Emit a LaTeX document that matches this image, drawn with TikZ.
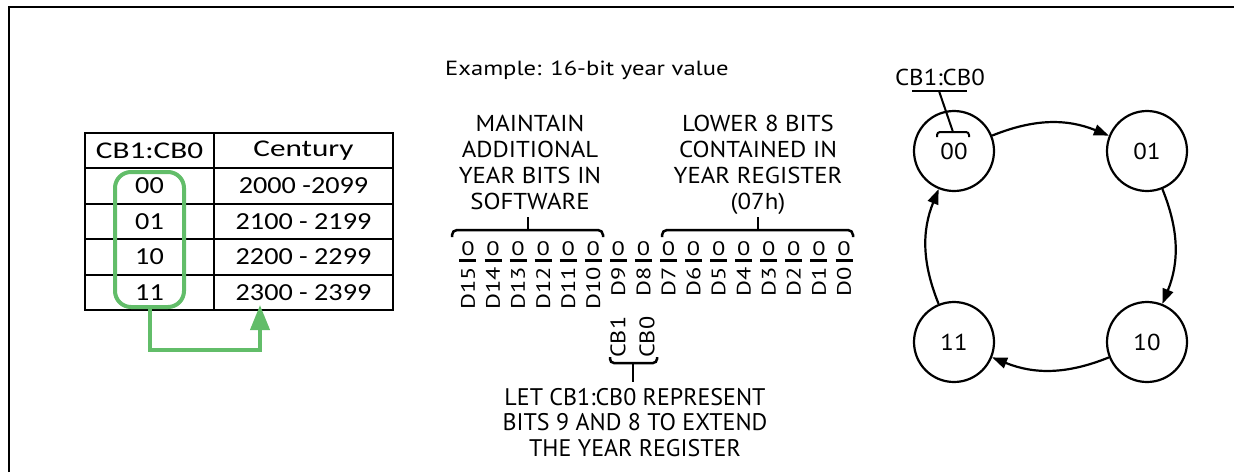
\documentclass[tikz,border=0pt]{standalone}
\usepackage{fontspec}
\setmainfont{PT Sans}
\newfontfamily\fWide[FakeStretch=1.2]{PT Sans}
\newfontfamily\fLbl[FakeStretch=1.25]{PT Sans}
\newfontfamily\fMid[FakeStretch=1.08]{PT Sans}
\newfontfamily\fCb[FakeStretch=1.15]{PT Sans}
\newfontfamily\tabfont[FakeStretch=1.3]{Carlito}
\newfontfamily\tabnum[FakeStretch=1.15]{Carlito}
\usetikzlibrary{arrows.meta}
\definecolor{grn}{RGB}{98,189,105}
\begin{document}
\begin{tikzpicture}[x=1pt,y=1pt,
  cellA/.style={draw, line width=2, minimum width=129, minimum height=35.4, inner sep=0, font=\tabfont\fontsize{24}{24}\selectfont},
  cellB/.style={draw, line width=2, minimum width=179, minimum height=35.4, inner sep=0, font=\tabfont\fontsize{24}{24}\selectfont},
  rowf/.style={font=\tabnum\fontsize{24.5}{24.5}\selectfont},
  blk/.style={align=center, inner sep=0, font=\fMid\fontsize{23}{26}\selectfont},
  bitf/.style={inner sep=0, font=\fLbl\fontsize{19.5}{19.5}\selectfont},
  lblf/.style={inner sep=0, rotate=90, font=\fLbl\fontsize{19.5}{19.5}\selectfont},
  cbf/.style={inner sep=0, rotate=90, font=\fCb\fontsize{21}{21}\selectfont},
  st/.style={circle, draw, line width=2.2, minimum size=80, inner sep=0, font=\fMid\fontsize{23}{23}\selectfont},
  cyc/.style={line width=2.2, -{Triangle[length=15,width=11]}, bend left=22},
  brc/.style={line width=2.5}
]
\useasboundingbox (0,0) rectangle (1234,-472);
% frame
\draw[line width=2] (9,-472) -- (9,-7) -- (1234,-7);

% table
\node[cellA] (h1) at (149.5,-150.7) {CB1:CB0};
\node[cellB] (h2) at (303.5,-150.7) {Century};
\foreach \yy/\aa/\bb [count=\i] in {186.1/00/2000 -2099, 221.5/01/2100 - 2199, 256.9/10/2200 - 2299, 292.3/11/2300 - 2399} {
  \node[cellA, rowf] (a\i) at (149.5,-\yy) {\aa};
  \node[cellB, rowf] (b\i) at (303.5,-\yy) {\bb};
}
\node[draw=grn, line width=4, rounded corners=16, minimum width=69, minimum height=135, inner sep=0] (grp) at (149.5,-239.5) {};
\coordinate (tgt) at (260,-305);
\draw[grn, line width=4, -{Triangle[length=25,width=19]}] (grp.south) -- ++(0,-41) -| (tgt);

% middle
\node[inner sep=0, anchor=base west, font=\fWide\fontsize{20.5}{20.5}\selectfont] (ex) at (445,-75) {Example: 16-bit year value};
\node[blk, anchor=base] (mnt) at (530,-209) {MAINTAIN\\ADDITIONAL\\YEAR BITS IN\\SOFTWARE};
\node[blk, anchor=base] (low) at (758,-209) {LOWER 8 BITS\\CONTAINED IN\\YEAR REGISTER\\(07h)};

\draw[brc, rounded corners=5] (452,-237) -- (452,-230) -- (603,-230) -- (603,-237);
\coordinate (bl) at (528,-230); \coordinate (blt) at (528,-217);
\draw[brc] (bl) -- (blt);
\draw[brc, rounded corners=5] (662,-237) -- (662,-230) -- (853,-230) -- (853,-237);
\coordinate (br) at (758,-230); \coordinate (brt) at (758,-217);
\draw[brc] (br) -- (brt);

\foreach \i in {0,...,15} {
  \pgfmathsetmacro\xx{844-25.07*\i}
  \node[bitf, anchor=base] (z\i) at (\xx,-255) {0};
  \draw[line width=3] (\xx-8.5,-260.5) -- (\xx+8.5,-260.5);
  \node[lblf, anchor=east] (d\i) at (\xx,-267) {D\i};
}

\node[cbf, anchor=west] (cb1) at (618,-358) {CB1};
\node[cbf, anchor=west] (cb0) at (647,-358) {CB0};
\draw[brc, rounded corners=4] (610,-357) -- (610,-363) -- (657,-363) -- (657,-357);
\coordinate (bc) at (633,-363); \coordinate (bct) at (633,-382);
\draw[brc] (bc) -- (bct);
\node[align=center, inner sep=0, font=\fontsize{24}{25.5}\selectfont, anchor=base] (let) at (635,-456) {LET CB1:CB0 REPRESENT\\BITS 9 AND 8 TO EXTEND\\THE YEAR REGISTER};

% state diagram
\node[st] (s00) at (954,-151) {00};
\node[st] (s01) at (1147,-151) {01};
\node[st] (s10) at (1147,-342) {10};
\node[st] (s11) at (954,-342) {11};
\draw[cyc] (s00) to (s01);
\draw[cyc] (s01) to (s10);
\draw[cyc] (s10) to (s11);
\draw[cyc] (s11) to (s00);

\node[inner sep=0, anchor=base, font=\fMid\fontsize{23}{23}\selectfont] (cbl) at (940,-85) {CB1:CB0};
\draw[line width=2] (912,-91) -- (967,-91);
\coordinate (cbt) at (939,-91); \coordinate (cbb) at (953,-132);
\draw[line width=2] (cbt) -- (cbb);
\draw[line width=2, rounded corners=3] (937,-137) -- (937,-132) -- (969,-132) -- (969,-137);
\end{tikzpicture}
\end{document}
